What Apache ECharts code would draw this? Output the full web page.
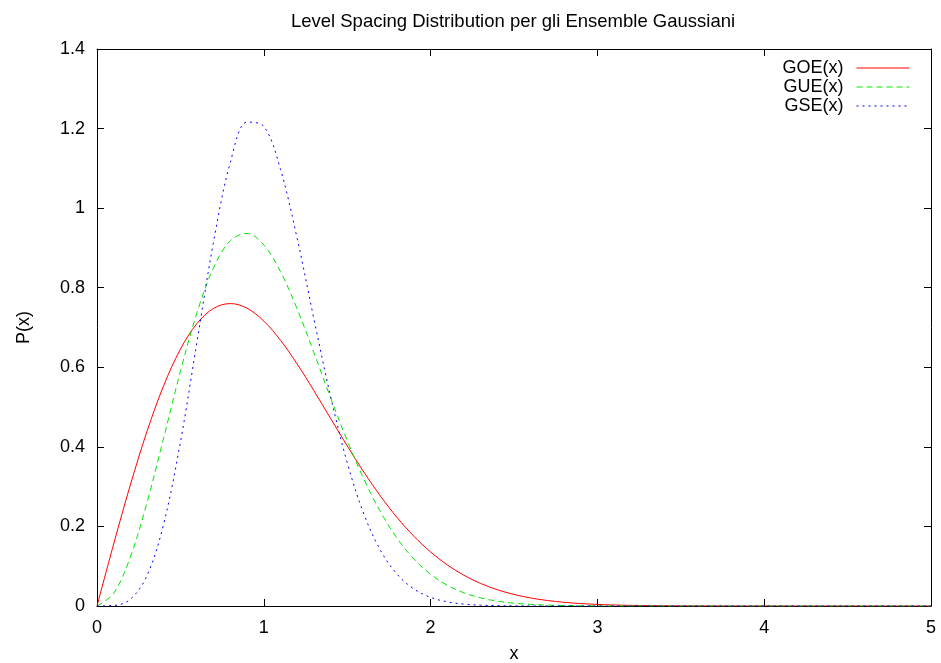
<!DOCTYPE html>
<html>
<head>
<meta charset="utf-8">
<script src="https://cdn.jsdelivr.net/npm/echarts@6/dist/echarts.min.js"></script>
<style>html,body{margin:0;padding:0;background:#fff;}#c{width:941px;height:663px;}</style>
</head>
<body>
<div id="c"></div>
<script>
const xValues = [0,0.1,0.2,0.3,0.4,0.5,0.6,0.7,0.8,0.9,1.0,1.1,1.2,1.3,1.4,1.5,1.6,1.7,1.8,1.9,2.0,2.1,2.2,2.3,2.4,2.5,2.6,2.7,2.8,2.9,3.0,3.1,3.2,3.3,3.4,3.5,3.6,3.7,3.8,3.9,4.0,4.1,4.2,4.3,4.4,4.5,4.6,4.7,4.8,4.9,5.0];
const goe = [0,0.15585,0.30444,0.43908,0.55412,0.64538,0.71036,0.74832,0.76017,0.74830,0.71618,0.66802,0.60831,0.54153,0.47177,0.40255,0.33652,0.27590,0.22197,0.17526,0.13576,0.10330,0.07720,0.05667,0.04088,0.02899,0.02019,0.01383,0.00931,0.00616,0.00401,0.00257,0.00162,0.00100,0.00061,0.00036,0.00021,0.00012,0.00007,0.00004,0.00002,0.00001,0.00001,0,0,0,0,0,0,0,0];
const gue = [0,0.03201,0.12325,0.26021,0.42315,0.58959,0.73801,0.85140,0.91861,0.93634,0.90759,0.84058,0.74645,0.63704,0.52391,0.41582,0.31885,0.23645,0.16974,0.11805,0.07963,0.05209,0.03306,0.02038,0.01219,0.00709,0.00401,0.00220,0.00118,0.00061,0.00031,0.00015,0.00007,0.00003,0.00001,0,0,0,0,0,0,0,0,0,0,0,0,0,0,0,0];
const gse = [0,0.00113,0.01695,0.07662,0.20669,0.41160,0.66537,0.91854,1.11575,1.21637,1.20568,1.09767,0.92380,0.72249,0.52732,0.36049,0.23113,0.13958,0.07950,0.04277,0.02167,0.01042,0.00475,0.00204,0.00084,0.00032,0.00012,0.00004,0.00001,0,0,0,0,0,0,0,0,0,0,0,0,0,0,0,0,0,0,0,0,0,0];
const seriesNames = ['GOE(x)','GUE(x)','GSE(x)'];
const titleText = 'Level Spacing Distribution per gli Ensemble Gaussiani';

const FONT = 'Liberation Sans';
const zip = arr => xValues.map((x,i)=>[x,arr[i]]);
const chart = echarts.init(document.getElementById('c'), null, {renderer:'canvas'});
const axisLineStyle = {color:'#000', width:1};
const yLabel = v => (Math.round(v*10)/10).toString();
chart.setOption({
  animation:false,
  backgroundColor:'#fff',
  title:{text:titleText, left:508, top:7, textAlign:'center',
    textStyle:{fontFamily:FONT, fontSize:18.5, fontWeight:'normal', color:'#000'}},
  legend:{orient:'vertical', right:26, top:54, align:'right', itemWidth:53, itemHeight:12, itemGap:1,
    itemStyle:{opacity:0, borderWidth:0},
    lineStyle:{width:1},
    textStyle:{fontFamily:FONT, fontSize:18, color:'#000', padding:[0,8,0,0]},
    data:seriesNames},
  grid:{left:97, right:10, top:49, height:557, containLabel:false, outerBoundsMode:'none'},
  xAxis:[
    {type:'value', min:0, max:5, interval:1, position:'bottom',
     name:'x', nameLocation:'middle', nameGap:39,
     nameTextStyle:{fontFamily:FONT, fontSize:18, color:'#000'},
     axisLine:{show:true, onZero:false, lineStyle:axisLineStyle},
     axisTick:{show:true, inside:true, length:7, lineStyle:axisLineStyle},
     axisLabel:{fontFamily:FONT, fontSize:18, color:'#000', margin:13},
     splitLine:{show:false}},
    {type:'value', min:0, max:5, interval:1, position:'top',
     axisLine:{show:true, onZero:false, lineStyle:axisLineStyle},
     axisTick:{show:true, inside:true, length:7, lineStyle:axisLineStyle},
     axisLabel:{show:false}, splitLine:{show:false}}
  ],
  yAxis:[
    {type:'value', min:0, max:1.4, interval:0.2, position:'left',
     name:'P(x)', nameLocation:'middle', nameGap:64, nameRotate:90,
     nameTextStyle:{fontFamily:FONT, fontSize:18, color:'#000'},
     axisLine:{show:true, onZero:false, lineStyle:axisLineStyle},
     axisTick:{show:true, inside:true, length:7, lineStyle:axisLineStyle},
     axisLabel:{fontFamily:FONT, fontSize:18, color:'#000', margin:12, formatter:yLabel},
     splitLine:{show:false}},
    {type:'value', min:0, max:1.4, interval:0.2, position:'right',
     axisLine:{show:true, onZero:false, lineStyle:axisLineStyle},
     axisTick:{show:true, inside:true, length:7, lineStyle:axisLineStyle},
     axisLabel:{show:false}, splitLine:{show:false}}
  ],
  series:[
    {name:seriesNames[0], type:'line', data:zip(goe), smooth:0.35, symbol:'none',
     lineStyle:{color:'#ff0000', width:1, type:'solid'}, itemStyle:{color:'#ff0000'}},
    {name:seriesNames[1], type:'line', data:zip(gue), smooth:0.35, symbol:'none',
     lineStyle:{color:'#00e600', width:1, type:[6,4]}, itemStyle:{color:'#00e600'}},
    {name:seriesNames[2], type:'line', data:zip(gse), smooth:0.35, symbol:'none',
     lineStyle:{color:'#0000ff', width:1, type:[2,4]}, itemStyle:{color:'#0000ff'}}
  ]
});
</script>
</body>
</html>
